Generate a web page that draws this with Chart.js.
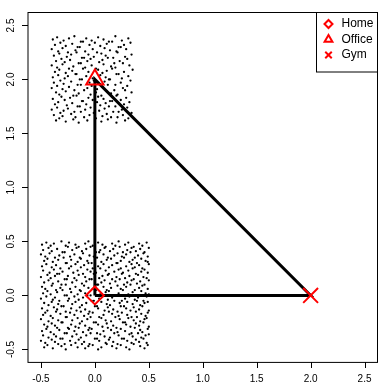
<!DOCTYPE html>
<html><head><meta charset="utf-8">
<script src="https://cdn.jsdelivr.net/npm/chart.js@4"></script>
<style>html,body{margin:0;padding:0;background:#fff;overflow:hidden;width:382px;height:384px}canvas{display:block}</style>
</head><body>
<canvas id="c" width="390" height="384"></canvas>
<script>
// Office cluster points (around 0,2)
const officeX = [
-0.39,-0.35,-0.29,-0.24,-0.19,-0.13,-0.08,-0.03,0.03,0.08,0.13,0.19,0.25,0.31,
-0.37,-0.32,-0.27,-0.21,-0.16,-0.11,-0.05,0.00,0.05,0.11,0.16,0.22,0.27,0.33,
-0.40,-0.34,-0.30,-0.25,-0.18,-0.14,-0.09,-0.02,0.02,0.09,0.14,0.20,0.24,0.29,
-0.38,-0.33,-0.26,-0.22,-0.17,-0.10,-0.06,-0.01,0.06,0.10,0.17,0.21,0.28,0.34,
-0.36,-0.31,-0.28,-0.23,-0.15,-0.12,-0.07,-0.04,0.04,0.07,0.12,0.18,0.23,0.30,
-0.40,-0.35,-0.30,-0.24,-0.20,-0.13,-0.09,-0.03,0.01,0.08,0.15,0.19,0.26,0.32,
-0.37,-0.33,-0.27,-0.21,-0.17,-0.11,-0.06,0.03,0.07,0.11,0.16,0.22,0.27,0.35,
-0.39,-0.34,-0.28,-0.25,-0.18,-0.14,-0.08,-0.02,0.05,0.10,0.14,0.20,0.25,0.31,
-0.38,-0.32,-0.29,-0.22,-0.16,-0.12,-0.05,-0.01,0.04,0.09,0.13,0.19,0.24,0.33,
-0.40,-0.35,-0.30,-0.24,-0.19,-0.13,-0.07,-0.03,0.02,0.07,0.12,0.18,0.26,0.30,
-0.36,-0.33,-0.27,-0.20,-0.15,-0.10,-0.04,0.01,0.06,0.11,0.15,0.21,0.28,0.34,
-0.39,-0.31,-0.28,-0.23,-0.17,-0.11,-0.06,-0.02,0.03,0.08,0.16,0.20,0.24,0.29,
-0.37,-0.34,-0.26,-0.21,-0.16,-0.12,-0.08,0.02,0.05,0.10,0.14,0.19,0.27,0.32,
-0.40,-0.35,-0.29,-0.25,-0.19,-0.14,-0.09,-0.04,0.04,0.09,0.13,0.22,0.25,0.30,
-0.38,-0.32,-0.30,-0.22,-0.18,-0.13,-0.05,-0.01,0.07,0.11,0.17,0.21,0.26,0.34,
-0.36,-0.33,-0.27,-0.20,-0.15,-0.10,-0.07,0.01,0.06,0.12,0.15,0.20,0.28,0.31
];
const officeY = [
2.37,2.39,2.36,2.38,2.40,2.35,2.38,2.36,2.39,2.37,2.35,2.40,2.36,2.38,
2.32,2.34,2.31,2.33,2.30,2.35,2.32,2.34,2.31,2.33,2.35,2.30,2.32,2.34,
2.28,2.26,2.29,2.25,2.27,2.30,2.26,2.28,2.25,2.29,2.27,2.26,2.30,2.28,
2.22,2.24,2.21,2.23,2.25,2.20,2.23,2.21,2.24,2.22,2.20,2.25,2.21,2.23,
2.17,2.19,2.16,2.18,2.15,2.20,2.17,2.19,2.16,2.18,2.20,2.15,2.17,2.19,
2.13,2.11,2.14,2.10,2.12,2.15,2.11,2.13,2.10,2.14,2.12,2.11,2.15,2.13,
2.07,2.09,2.06,2.08,2.05,2.10,2.07,2.09,2.06,2.08,2.10,2.05,2.07,2.09,
2.02,2.04,2.01,2.03,2.05,2.00,2.03,2.01,2.04,2.02,2.00,2.05,2.01,2.03,
1.97,1.99,1.96,1.98,1.95,2.00,1.97,1.99,1.96,1.98,2.00,1.95,1.97,1.99,
1.92,1.94,1.91,1.93,1.90,1.95,1.92,1.94,1.91,1.93,1.95,1.90,1.92,1.94,
1.88,1.86,1.89,1.85,1.87,1.90,1.86,1.88,1.85,1.89,1.87,1.86,1.90,1.88,
1.82,1.84,1.81,1.83,1.85,1.80,1.83,1.81,1.84,1.82,1.80,1.85,1.81,1.83,
1.77,1.79,1.76,1.78,1.75,1.80,1.77,1.79,1.76,1.78,1.80,1.75,1.77,1.79,
1.72,1.74,1.71,1.73,1.70,1.75,1.72,1.74,1.71,1.73,1.75,1.70,1.72,1.74,
1.67,1.69,1.66,1.68,1.65,1.70,1.67,1.69,1.66,1.68,1.70,1.65,1.67,1.69,
1.62,1.64,1.61,1.63,1.60,1.65,1.62,1.64,1.61,1.63,1.65,1.60,1.62,1.64
];
// Home cluster points (around 0,0)
const homeX = [
-0.49,-0.45,-0.41,-0.38,-0.31,-0.27,-0.24,-0.18,-0.15,-0.09,-0.06,-0.02,0.03,0.07,0.10,0.16,0.19,0.22,0.28,0.31,0.36,0.41,0.44,0.48,
-0.48,-0.43,-0.40,-0.35,-0.30,-0.25,-0.21,-0.17,-0.12,-0.08,-0.04,0.01,0.05,0.09,0.14,0.17,0.23,0.26,0.30,0.34,0.38,0.42,0.46,0.50,
-0.50,-0.46,-0.42,-0.37,-0.33,-0.28,-0.23,-0.19,-0.14,-0.11,-0.05,-0.01,0.04,0.08,0.12,0.18,0.21,0.25,0.29,0.33,0.37,0.40,0.45,0.49,
-0.47,-0.44,-0.39,-0.34,-0.29,-0.26,-0.22,-0.16,-0.13,-0.07,-0.03,0.02,0.06,0.11,0.15,0.20,0.24,0.27,0.32,0.35,0.39,0.43,0.47,0.49,
-0.49,-0.45,-0.40,-0.36,-0.32,-0.27,-0.22,-0.18,-0.13,-0.10,-0.06,-0.02,0.03,0.08,0.13,0.16,0.21,0.24,0.29,0.34,0.37,0.41,0.44,0.50,
-0.48,-0.42,-0.38,-0.35,-0.30,-0.24,-0.20,-0.16,-0.11,-0.07,-0.04,0.01,0.05,0.10,0.13,0.18,0.22,0.26,0.31,0.35,0.38,0.43,0.46,0.49,
-0.50,-0.44,-0.41,-0.37,-0.33,-0.28,-0.25,-0.19,-0.15,-0.09,-0.05,-0.01,0.04,0.07,0.12,0.16,0.20,0.25,0.28,0.32,0.36,0.40,0.45,0.48,
-0.47,-0.43,-0.39,-0.34,-0.31,-0.26,-0.21,-0.17,-0.12,-0.08,-0.03,0.02,0.06,0.09,0.14,0.19,0.23,0.27,0.30,0.34,0.39,0.42,0.46,0.50,
-0.49,-0.46,-0.40,-0.36,-0.32,-0.27,-0.23,-0.18,-0.14,-0.10,-0.06,-0.02,0.03,0.08,0.11,0.15,0.21,0.24,0.29,0.33,0.37,0.41,0.44,0.49,
-0.48,-0.44,-0.41,-0.35,-0.30,-0.26,-0.22,-0.16,-0.13,-0.09,-0.04,0.01,0.05,0.10,0.13,0.17,0.22,0.26,0.31,0.35,0.38,0.43,0.47,0.50,
-0.50,-0.45,-0.39,-0.37,-0.33,-0.28,-0.24,-0.19,-0.15,-0.11,-0.07,-0.01,0.04,0.07,0.12,0.16,0.20,0.25,0.28,0.32,0.37,0.40,0.45,0.48,
-0.47,-0.43,-0.40,-0.34,-0.31,-0.25,-0.21,-0.18,-0.12,-0.08,-0.03,0.02,0.06,0.11,0.14,0.18,0.23,0.27,0.30,0.35,0.39,0.42,0.46,0.49,
-0.49,-0.44,-0.38,-0.35,-0.29,-0.27,-0.22,-0.17,-0.14,-0.09,-0.05,0.00,0.03,0.09,0.12,0.17,0.21,0.24,0.29,0.33,0.36,0.41,0.44,0.50,
-0.48,-0.46,-0.41,-0.36,-0.32,-0.26,-0.23,-0.19,-0.13,-0.10,-0.06,-0.02,0.04,0.08,0.13,0.16,0.22,0.25,0.30,0.34,0.38,0.43,0.47,0.49,
-0.50,-0.43,-0.39,-0.34,-0.30,-0.27,-0.21,-0.16,-0.12,-0.07,-0.04,0.01,0.06,0.10,0.15,0.19,0.23,0.28,0.31,0.36,0.39,0.42,0.46,0.48,
-0.47,-0.44,-0.40,-0.37,-0.31,-0.25,-0.22,-0.18,-0.14,-0.09,-0.05,-0.01,0.03,0.07,0.11,0.17,0.20,0.26,0.29,0.33,0.38,0.41,0.45,0.50,
-0.49,-0.45,-0.41,-0.35,-0.33,-0.28,-0.24,-0.19,-0.15,-0.11,-0.06,-0.03,0.02,0.08,0.12,0.15,0.21,0.24,0.28,0.34,0.37,0.42,0.44,0.49,
-0.48,-0.43,-0.38,-0.36,-0.30,-0.26,-0.21,-0.17,-0.13,-0.08,-0.04,0.02,0.05,0.09,0.14,0.18,0.22,0.27,0.32,0.35,0.40,0.43,0.47,0.50,
-0.50,-0.46,-0.40,-0.37,-0.32,-0.28,-0.23,-0.18,-0.15,-0.10,-0.05,0.00,0.04,0.10,0.13,0.17,0.21,0.25,0.30,0.34,0.38,0.41,0.45,0.48,
-0.47,-0.44,-0.39,-0.34,-0.31,-0.27,-0.22,-0.16,-0.12,-0.09,-0.06,-0.02,0.03,0.06,0.11,0.16,0.20,0.24,0.29,0.32,0.36,0.42,0.46,0.49
];
const homeY = [
0.47,0.49,0.46,0.48,0.50,0.46,0.49,0.47,0.45,0.48,0.50,0.46,0.49,0.47,0.45,0.48,0.46,0.50,0.47,0.49,0.45,0.48,0.46,0.49,
0.42,0.44,0.41,0.43,0.40,0.45,0.42,0.44,0.41,0.43,0.45,0.40,0.42,0.44,0.41,0.43,0.45,0.40,0.42,0.44,0.41,0.43,0.40,0.44,
0.38,0.36,0.39,0.35,0.37,0.40,0.36,0.38,0.35,0.39,0.37,0.36,0.40,0.38,0.35,0.37,0.39,0.36,0.38,0.40,0.35,0.37,0.39,0.36,
0.32,0.34,0.31,0.33,0.35,0.30,0.33,0.31,0.34,0.32,0.30,0.35,0.31,0.33,0.34,0.30,0.32,0.35,0.31,0.33,0.30,0.34,0.32,0.31,
0.27,0.29,0.26,0.28,0.25,0.30,0.27,0.29,0.26,0.28,0.30,0.25,0.27,0.29,0.26,0.28,0.30,0.25,0.27,0.29,0.26,0.28,0.25,0.29,
0.23,0.21,0.24,0.20,0.22,0.25,0.21,0.23,0.20,0.24,0.22,0.21,0.25,0.23,0.20,0.22,0.24,0.21,0.23,0.25,0.20,0.22,0.24,0.21,
0.17,0.19,0.16,0.18,0.20,0.15,0.18,0.16,0.19,0.17,0.15,0.20,0.16,0.18,0.19,0.15,0.17,0.20,0.16,0.18,0.15,0.19,0.17,0.16,
0.12,0.14,0.11,0.13,0.10,0.15,0.12,0.14,0.11,0.13,0.15,0.10,0.12,0.14,0.11,0.13,0.15,0.10,0.12,0.14,0.11,0.13,0.10,0.14,
0.08,0.06,0.09,0.05,0.07,0.10,0.06,0.08,0.05,0.09,0.07,0.06,0.10,0.08,0.05,0.07,0.09,0.06,0.08,0.10,0.05,0.07,0.09,0.06,
0.02,0.04,0.01,0.03,0.05,0.00,0.03,0.01,0.04,0.02,0.00,0.05,0.01,0.03,0.04,0.00,0.02,0.05,0.01,0.03,0.00,0.04,0.02,0.01,
-0.03,-0.01,-0.04,-0.02,-0.05,0.00,-0.03,-0.01,-0.04,-0.02,0.00,-0.05,-0.03,-0.01,-0.04,-0.02,0.00,-0.05,-0.03,-0.01,-0.04,-0.02,-0.05,-0.01,
-0.07,-0.09,-0.06,-0.08,-0.10,-0.05,-0.08,-0.06,-0.09,-0.07,-0.05,-0.10,-0.06,-0.08,-0.09,-0.05,-0.07,-0.10,-0.06,-0.08,-0.05,-0.09,-0.07,-0.06,
-0.12,-0.14,-0.11,-0.13,-0.10,-0.15,-0.12,-0.14,-0.11,-0.13,-0.15,-0.10,-0.12,-0.14,-0.11,-0.13,-0.15,-0.10,-0.12,-0.14,-0.11,-0.13,-0.10,-0.14,
-0.18,-0.16,-0.19,-0.15,-0.17,-0.20,-0.16,-0.18,-0.15,-0.19,-0.17,-0.16,-0.20,-0.18,-0.15,-0.17,-0.19,-0.16,-0.18,-0.20,-0.15,-0.17,-0.19,-0.16,
-0.22,-0.24,-0.21,-0.23,-0.25,-0.20,-0.23,-0.21,-0.24,-0.22,-0.20,-0.25,-0.21,-0.23,-0.24,-0.20,-0.22,-0.25,-0.21,-0.23,-0.20,-0.24,-0.22,-0.21,
-0.27,-0.29,-0.26,-0.28,-0.25,-0.30,-0.27,-0.29,-0.26,-0.28,-0.30,-0.25,-0.27,-0.29,-0.26,-0.28,-0.30,-0.25,-0.27,-0.29,-0.26,-0.28,-0.25,-0.29,
-0.33,-0.31,-0.34,-0.30,-0.32,-0.35,-0.31,-0.33,-0.30,-0.34,-0.32,-0.31,-0.35,-0.33,-0.30,-0.32,-0.34,-0.31,-0.33,-0.35,-0.30,-0.32,-0.34,-0.31,
-0.37,-0.39,-0.36,-0.38,-0.40,-0.35,-0.38,-0.36,-0.39,-0.37,-0.35,-0.40,-0.36,-0.38,-0.39,-0.35,-0.37,-0.40,-0.36,-0.38,-0.35,-0.39,-0.37,-0.36,
-0.42,-0.44,-0.41,-0.43,-0.40,-0.45,-0.42,-0.44,-0.41,-0.43,-0.45,-0.40,-0.42,-0.44,-0.41,-0.43,-0.45,-0.40,-0.42,-0.44,-0.41,-0.43,-0.40,-0.44,
-0.48,-0.46,-0.49,-0.45,-0.47,-0.50,-0.46,-0.48,-0.45,-0.49,-0.47,-0.46,-0.50,-0.48,-0.45,-0.47,-0.49,-0.46,-0.48,-0.50,-0.45,-0.47,-0.49,-0.46
];
// Route between places
const routeX = [0, 0, 2, 0];
const routeY = [0, 2, 0, 0];
// Places
const placeNames = ['Home', 'Office', 'Gym'];
const placeX = [0, 0, 2];
const placeY = [0, 2, 0];
// Ticks
const tickVals = [-0.5, 0, 0.5, 1, 1.5, 2, 2.5];
const tickLabels = ['-0.5', '0.0', '0.5', '1.0', '1.5', '2.0', '2.5'];

const placeStyles = ['rectRot', 'triangle', 'crossRot'];
const placeRadius = [9, 10, 10.5];
const legendRadius = [4, 4.5, 4.6];
const FONT = "'Liberation Sans', Arial, Helvetica, sans-serif";

const toPts = (xs, ys) => xs.map((x, i) => ({x: x, y: ys[i]}));

const datasets = [];
placeNames.forEach((n, i) => {
  datasets.push({
    label: n, data: [{x: placeX[i], y: placeY[i]}], order: 0,
    pointStyle: placeStyles[i], pointRadius: placeRadius[i],
    pointBorderColor: '#ff0000', pointBackgroundColor: 'rgba(0,0,0,0)', pointBorderWidth: 2
  });
});
datasets.push({
  label: 'route', data: toPts(routeX, routeY), order: 1, showLine: true,
  borderColor: '#000', borderWidth: 3, pointRadius: 0, tension: 0
});
datasets.push({
  label: 'home pts', data: toPts(homeX, homeY), order: 2,
  pointRadius: 1.15, pointBackgroundColor: '#000', pointBorderWidth: 0
});
datasets.push({
  label: 'office pts', data: toPts(officeX, officeY), order: 2,
  pointRadius: 1.15, pointBackgroundColor: '#000', pointBorderWidth: 0
});

const setTicks = (scale) => { scale.ticks = tickVals.map(v => ({value: v})); };

const decor = {
  id: 'decor',
  afterDraw(chart) {
    const ctx = chart.ctx, a = chart.chartArea, ys = chart.scales.y, xs = chart.scales.x;
    ctx.save();
    // plot box
    ctx.strokeStyle = '#000'; ctx.lineWidth = 1;
    ctx.strokeRect(a.left, a.top, a.right - a.left, a.bottom - a.top);
    // tick marks
    ctx.fillStyle = '#000';
    for (let i = 0; i < tickVals.length; i++) {
      const px = Math.round(xs.getPixelForValue(tickVals[i]));
      ctx.fillRect(px, Math.round(a.bottom), 1, 6);
      const py = Math.round(ys.getPixelForValue(tickVals[i]));
      ctx.fillRect(Math.round(a.left) - 6, py, 6, 1);
    }
    // y tick labels (rotated)
    ctx.fillStyle = '#000';
    ctx.font = '10px ' + FONT;
    ctx.textAlign = 'center'; ctx.textBaseline = 'middle';
    tickVals.forEach((v, i) => {
      const y = ys.getPixelForValue(v);
      ctx.save(); ctx.translate(11, y); ctx.rotate(-Math.PI / 2);
      ctx.fillText(tickLabels[i], 0, 0); ctx.restore();
    });
    // legend
    const lx = 316.5, ly = a.top, lb = 72;
    ctx.fillStyle = '#fff';
    ctx.fillRect(lx, ly, a.right - lx, lb - ly);
    ctx.strokeStyle = '#000'; ctx.lineWidth = 1;
    ctx.strokeRect(lx, ly, a.right - lx, lb - ly);
    ctx.font = '12px ' + FONT;
    ctx.textAlign = 'left'; ctx.textBaseline = 'middle';
    placeNames.forEach((n, i) => {
      const y = 24 + i * 15.5;
      ctx.strokeStyle = '#ff0000'; ctx.lineWidth = 2; ctx.fillStyle = 'rgba(0,0,0,0)';
      Chart.helpers.drawPoint(ctx, {pointStyle: placeStyles[i], radius: legendRadius[i], rotation: 0, borderWidth: 2}, 328.5, y);
      ctx.fillStyle = '#000';
      ctx.fillText(n, 341.5, y);
    });
    ctx.restore();
  }
};

new Chart(document.getElementById('c'), {
  type: 'scatter',
  data: {datasets: datasets},
  options: {
    responsive: false, animation: false, events: [],
    layout: {padding: {left: 0, top: 6, right: 5.6, bottom: 0}},
    plugins: {legend: {display: false}, tooltip: {enabled: false}},
    scales: {
      x: {
        type: 'linear', min: -0.62, max: 2.62,
        afterBuildTicks: setTicks,
        afterFit: (s) => { s.height = 21.6; },
        border: {display: false},
        grid: {display: true, drawOnChartArea: false, drawTicks: true, tickLength: 6, color: 'rgba(0,0,0,0)'},
        ticks: {autoSkip: false, maxRotation: 0, padding: 5, color: '#000',
                font: {family: FONT, size: 10},
                callback: (v) => tickLabels[tickVals.indexOf(v)]}
      },
      y: {
        type: 'linear', min: -0.62, max: 2.62,
        afterBuildTicks: setTicks,
        afterFit: (s) => { s.width = 28; },
        border: {display: false},
        grid: {drawOnChartArea: false, drawTicks: false},
        ticks: {display: false}
      }
    }
  },
  plugins: [decor]
});
</script>
</body></html>
